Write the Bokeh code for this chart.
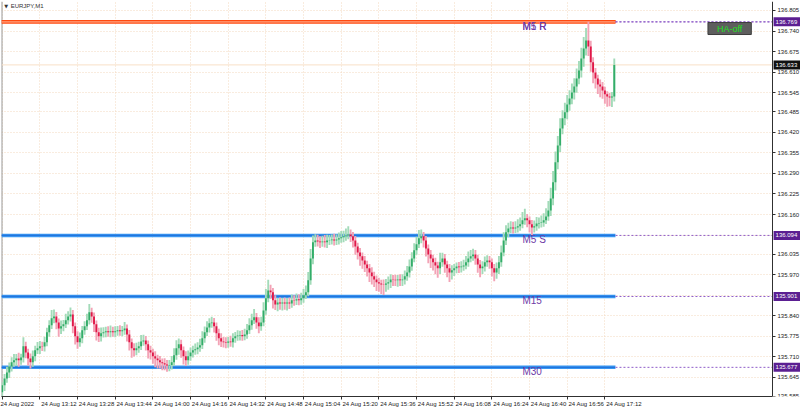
from bokeh.plotting import figure
from bokeh.models import Range1d, FixedTicker, Label, ColumnDataSource, LinearAxis
from bokeh.embed import file_html
from bokeh.resources import INLINE
from bokeh.core.properties import value

# ---------------- data ----------------
symbol = "EURJPY,M1"
first_open = 135.598
closes = [
    135.620, 135.642, 135.661, 135.680, 135.693, 135.699, 135.705, 135.699, 135.708, 135.744,
    135.724, 135.705, 135.693, 135.712, 135.731, 135.737, 135.744, 135.743, 135.756, 135.788,
    135.810, 135.832, 135.838, 135.819, 135.800, 135.807, 135.813, 135.826, 135.838, 135.844,
    135.807, 135.775, 135.756, 135.769, 135.794, 135.807, 135.826, 135.851, 135.838, 135.813,
    135.788, 135.775, 135.785, 135.788, 135.791, 135.788, 135.791, 135.788, 135.791, 135.794,
    135.791, 135.794, 135.800, 135.781, 135.756, 135.737, 135.731, 135.737, 135.744, 135.759,
    135.762, 135.750, 135.731, 135.724, 135.712, 135.705, 135.699, 135.693, 135.690, 135.686,
    135.683, 135.684, 135.693, 135.715, 135.737, 135.750, 135.731, 135.712, 135.699, 135.712,
    135.724, 135.731, 135.734, 135.740, 135.747, 135.769, 135.788, 135.803, 135.816, 135.819,
    135.807, 135.785, 135.769, 135.759, 135.756, 135.755, 135.759, 135.756, 135.769, 135.775,
    135.778, 135.779, 135.775, 135.781, 135.794, 135.810, 135.826, 135.835, 135.819, 135.807,
    135.819, 135.857, 135.895, 135.920, 135.914, 135.889, 135.876, 135.882, 135.879, 135.882,
    135.879, 135.882, 135.879, 135.889, 135.888, 135.892, 135.889, 135.895, 135.905, 135.914,
    135.952, 136.021, 136.072, 136.078, 136.075, 136.072, 136.075, 136.072, 136.078, 136.079,
    136.081, 136.078, 136.081, 136.085, 136.088, 136.091, 136.094, 136.097, 136.091, 136.078,
    136.059, 136.040, 136.028, 136.015, 136.002, 135.990, 135.977, 135.965, 135.955, 135.946,
    135.942, 135.939, 135.938, 135.942, 135.946, 135.955, 135.954, 135.952, 135.955, 135.952,
    135.955, 135.965, 135.977, 135.996, 136.021, 136.047, 136.066, 136.085, 136.091, 136.078,
    136.053, 136.034, 136.021, 136.009, 135.999, 135.990, 136.009, 136.021, 136.002, 135.990,
    135.977, 135.984, 135.990, 135.996, 135.993, 135.996, 135.999, 136.009, 136.021, 136.028,
    136.034, 136.021, 136.002, 135.990, 135.996, 136.009, 136.015, 136.009, 135.990, 135.977,
    135.990, 136.009, 136.040, 136.078, 136.104, 136.116, 136.119, 136.116, 136.119, 136.123,
    136.129, 136.142, 136.148, 136.142, 136.129, 136.119, 136.123, 136.132, 136.133, 136.135,
    136.142, 136.154, 136.173, 136.211, 136.262, 136.325, 136.378, 136.432, 136.464, 136.483,
    136.508, 136.527, 136.546, 136.565, 136.590, 136.615, 136.653, 136.685, 136.710, 136.691,
    136.641, 136.609, 136.590, 136.571, 136.565, 136.552, 136.540, 136.533, 136.530, 136.533,
    136.633,
]
# upper / lower wick lengths in points (0.001)
wick_up_pts = [
    10, 14, 18, 12, 16, 20, 14, 18, 12, 28,
    14, 12, 16, 18, 14, 20, 16, 14, 18, 14,
    16, 26, 22, 14, 12, 18, 14, 20, 16, 22,
    14, 12, 16, 18, 14, 16, 20, 26, 14, 12,
    12, 14, 18, 16, 14, 16, 18, 14, 16, 14,
    16, 14, 20, 12, 14, 12, 16, 18, 14, 20,
    18, 14, 12, 14, 12, 16, 12, 14, 12, 16,
    14, 16, 20, 22, 26, 18, 14, 12, 16, 18,
    16, 14, 18, 16, 20, 22, 18, 20, 16, 18,
    14, 12, 14, 16, 14, 16, 14, 18, 16, 14,
    16, 14, 16, 18, 20, 22, 20, 26, 14, 16,
    18, 26, 30, 34, 18, 14, 16, 14, 16, 14,
    16, 14, 16, 18, 16, 18, 16, 18, 20, 22,
    26, 30, 22, 20, 18, 16, 18, 20, 18, 16,
    16, 18, 16, 18, 20, 18, 22, 26, 16, 14,
    14, 12, 14, 12, 14, 12, 14, 16, 14, 12,
    14, 12, 16, 14, 18, 16, 14, 16, 14, 16,
    16, 18, 20, 22, 20, 22, 24, 26, 22, 14,
    14, 12, 14, 12, 14, 12, 30, 18, 14, 12,
    14, 16, 14, 12, 14, 16, 18, 20, 22, 20,
    18, 14, 12, 14, 16, 18, 16, 14, 12, 14,
    18, 20, 22, 26, 22, 18, 20, 18, 20, 22,
    22, 26, 30, 14, 12, 14, 18, 20, 18, 22,
    22, 26, 30, 34, 36, 34, 30, 32, 26, 30,
    30, 26, 28, 26, 32, 30, 34, 36, 40, 59,
    18, 16, 14, 12, 16, 14, 12, 10, 12, 14,
    20,
]
wick_dn_pts = [
    22, 18, 14, 18, 16, 14, 18, 20, 14, 16,
    18, 22, 20, 14, 16, 12, 18, 14, 16, 12,
    14, 12, 16, 22, 26, 18, 16, 12, 14, 16,
    22, 26, 20, 14, 16, 14, 12, 14, 20, 24,
    26, 18, 16, 14, 16, 14, 16, 14, 16, 14,
    14, 16, 14, 22, 26, 30, 20, 16, 14, 12,
    14, 20, 26, 22, 24, 28, 26, 20, 22, 18,
    20, 18, 14, 12, 14, 20, 24, 26, 18, 14,
    14, 16, 14, 16, 14, 12, 14, 12, 16, 14,
    20, 24, 22, 18, 16, 18, 16, 14, 16, 14,
    14, 16, 14, 12, 14, 12, 14, 12, 20, 22,
    14, 12, 14, 12, 20, 26, 18, 22, 20, 22,
    20, 22, 18, 14, 16, 14, 16, 14, 14, 12,
    12, 14, 18, 14, 16, 18, 14, 16, 18, 14,
    14, 16, 14, 16, 14, 16, 14, 12, 18, 22,
    26, 22, 30, 26, 24, 26, 30, 26, 24, 28,
    26, 30, 32, 22, 20, 18, 20, 18, 20, 18,
    18, 16, 14, 16, 14, 12, 14, 12, 16, 22,
    26, 28, 30, 26, 28, 30, 18, 14, 26, 28,
    30, 22, 18, 16, 18, 16, 14, 12, 14, 12,
    14, 20, 26, 28, 18, 16, 14, 20, 26, 28,
    20, 18, 14, 12, 14, 16, 14, 16, 14, 16,
    14, 12, 14, 22, 26, 24, 16, 14, 16, 14,
    14, 12, 14, 18, 22, 26, 22, 20, 18, 22,
    22, 20, 18, 22, 20, 18, 22, 26, 22, 30,
    30, 34, 32, 30, 34, 26, 30, 32, 28, 30,
    16,
]
assert len(closes) == len(wick_up_pts) == len(wick_dn_pts)

start_time = "12:56"
tick_times = ["12:56", "13:12", "13:28", "13:44", "14:00", "14:16", "14:32", "14:48", "15:04",
              "15:20", "15:36", "15:52", "16:08", "16:24", "16:40", "16:56", "17:12"]
tick_labels = ["24 Aug 2022", "24 Aug 13:12", "24 Aug 13:28", "24 Aug 13:44", "24 Aug 14:00",
               "24 Aug 14:16", "24 Aug 14:32", "24 Aug 14:48", "24 Aug 15:04", "24 Aug 15:20",
               "24 Aug 15:36", "24 Aug 15:52", "24 Aug 16:08", "24 Aug 16:24", "24 Aug 16:40",
               "24 Aug 16:56", "24 Aug 17:12"]
price_ticks = [136.805, 136.740, 136.675, 136.610, 136.545, 136.485, 136.420, 136.355, 136.290,
               136.225, 136.160, 136.095, 136.035, 135.970, 135.905, 135.840, 135.775, 135.710,
               135.645, 135.585]
level_prices = [136.769, 136.769, 136.094, 135.901, 135.677]
level_names = ["M1 R", "M5 R", "M5 S", "M15", "M30"]
marker_prices = [136.769, 136.094, 135.901, 135.677]
current_price = 136.633

# ---------------- derived ----------------
def minutes(s):
    h, m = s.split(":")
    return int(h) * 60 + int(m)

n = len(closes)
t_idx = list(range(n))
opens = [first_open] + closes[:-1]
highs = [max(o, c) + u / 1000 for o, c, u in zip(opens, closes, wick_up_pts)]
lows = [min(o, c) - d / 1000 for o, c, d in zip(opens, closes, wick_dn_pts)]
bull = [c >= o for o, c in zip(opens, closes)]
src = ColumnDataSource(dict(
    t=t_idx, high=highs, low=lows,
    btop=[max(o, c) for o, c in zip(opens, closes)],
    bbot=[min(o, c) for o, c in zip(opens, closes)],
    body=["#33AD69" if b else "#E01848" for b in bull],
    wick=["#A3DBB9" if b else "#F3A3B6" for b in bull],
))

x_lo, x_hi = -0.3, 339.1      # whole canvas width (bars)
axis_x = 327.2                # where the price scale sits
y_lo, y_hi = 135.5848, 136.8334

p = figure(width=800, height=411, output_backend="svg", toolbar_location=None,
           x_range=Range1d(x_lo, x_hi), y_range=Range1d(y_lo, y_hi),
           y_axis_location=None, min_border_left=1, min_border_top=1,
           min_border_right=0, min_border_bottom=15)
p.background_fill_color = "white"
p.border_fill_color = "white"
p.outline_line_color = None

tick_pos = [minutes(s) - minutes(start_time) for s in tick_times]
lead = "\u00A0" * 23
p.xaxis.ticker = FixedTicker(ticks=tick_pos)
p.xaxis.major_label_overrides = {tp: (lb if i == 0 else lead + lb)
                                 for i, (tp, lb) in enumerate(zip(tick_pos, tick_labels))}
p.xaxis.bounds = (x_lo, axis_x)

axis_ticks = [v for v in price_ticks if all(abs(v - m) > 0.008 for m in marker_prices)]
yax = LinearAxis(fixed_location=axis_x, ticker=FixedTicker(ticks=axis_ticks))
yax.major_label_overrides = {v: f"{v:.3f}" for v in axis_ticks}
p.add_layout(yax, "right")

for ax in (p.xaxis[0], yax):
    ax.axis_line_color = "#303030"
    ax.major_tick_line_color = "#303030"
    ax.major_tick_out = 3
    ax.major_tick_in = 0
    ax.minor_tick_out = 0
    ax.minor_tick_in = 0
    ax.major_label_text_font = "Liberation Sans"
    ax.major_label_text_font_size = "6px"
    ax.major_label_text_color = "#222222"
    ax.major_label_standoff = 2
p.xaxis.major_label_standoff = 1

p.xgrid.ticker = FixedTicker(ticks=tick_pos)
p.ygrid.ticker = FixedTicker(ticks=price_ticks)
for g in (p.xgrid[0], p.ygrid[0]):
    g.grid_line_color = "#F2D9BF"
    g.grid_line_dash = "1 2"
    g.grid_line_width = 1

# blank out the price-scale strip
p.quad(left=[axis_x], right=[x_hi], top=[y_hi], bottom=[y_lo], fill_color="white", line_color=None)

# left border
p.segment(x0=[x_lo], x1=[x_lo], y0=[y_lo], y1=[y_hi], line_color="#9A9A9A", line_width=2)

# current price line
p.segment(x0=[x_lo], x1=[axis_x], y0=[current_price], y1=[current_price],
          line_color="#F8E0C8", line_width=1)

# level lines
last_x = n - 1 + 0.5
k = len(level_prices)
lv_col = ["#FF4A10", "#FF4A10", "#3A98F2", "#3A98F2", "#3A98F2"]
lv_dot = ["#FFB89A", "#FFB89A", "#0A50C8", "#0A50C8", "#0A50C8"]
p.segment(x0=[x_lo] * k, x1=[last_x] * k, y0=level_prices, y1=level_prices,
          line_color=lv_col, line_width=3.5)
p.segment(x0=[x_lo] * k, x1=[last_x] * k, y0=level_prices, y1=level_prices,
          line_color=lv_dot, line_width=1.2, line_dash="1 1")
p.segment(x0=[last_x] * k, x1=[axis_x] * k, y0=level_prices, y1=level_prices,
          line_color="#8E5CC8", line_width=1, line_dash="2 2")

# candles
p.vbar(x="t", width=0.8, top="high", bottom="low", fill_color="wick", line_color=None, source=src)
p.vbar(x="t", width=0.8, top="btop", bottom="bbot", fill_color="body", line_color=None, source=src)

# level names
p.text(x=[221] * k, y=level_prices, text=level_names, text_baseline="top",
       y_offset=-1, text_font=value("Liberation Sans"), text_font_size="10px", text_color="#6E3AA6")

# price markers on the scale
mk_prices = marker_prices + [current_price]
mk_colors = ["#5B1F92"] * len(marker_prices) + ["#111111"]
p.rect(x=[333.4] * len(mk_prices), y=mk_prices, width=27, height=9, width_units="screen",
       height_units="screen", fill_color=mk_colors, line_color=None)
p.text(x=[328.5] * len(mk_prices), y=mk_prices, text=[f"{v:.3f}" for v in mk_prices],
       text_baseline="middle", text_font=value("Liberation Sans"), text_font_size="6px",
       text_color="white")

# title and button
p.add_layout(Label(x=0.9, y=136.8185, text="\u25BC", text_baseline="middle",
                   text_font="DejaVu Sans", text_font_size="5px", text_color="#333333"))
p.add_layout(Label(x=3.6, y=136.8185, text=symbol, text_baseline="middle",
                   text_font="Liberation Sans", text_font_size="6px", text_color="#333333"))
p.add_layout(Label(x=309, y=136.748, text="HA-off", text_align="center", text_baseline="middle",
                   text_font="Liberation Sans", text_font_size="9px", text_color="#1FE01F",
                   background_fill_color="#5E5E5E", border_line_color="#3C3C3C",
                   padding=(9, 1)))

open("out.html", "w").write(file_html(p, INLINE))
